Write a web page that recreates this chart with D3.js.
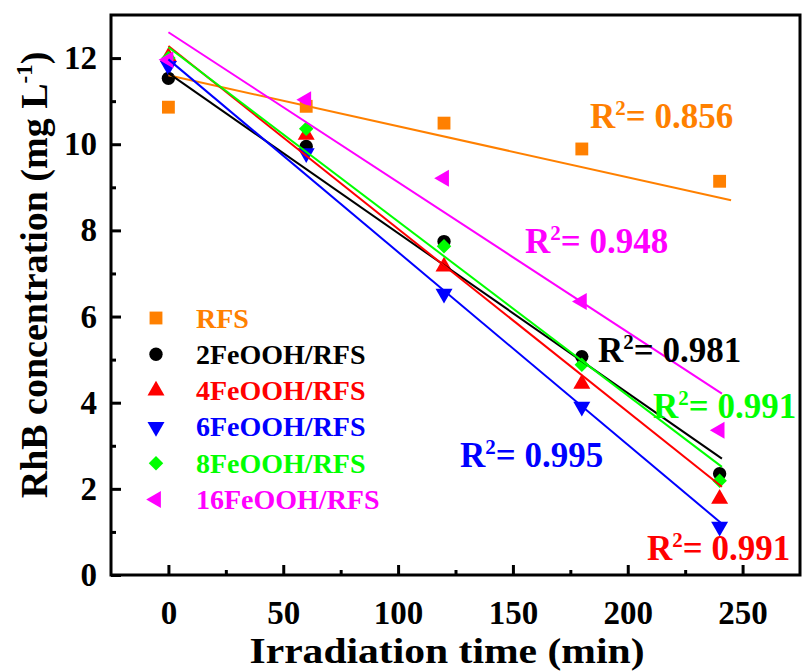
<!DOCTYPE html>
<html><head><meta charset="utf-8">
<script src="https://cdn.jsdelivr.net/npm/d3@7"></script>
<style>
html,body{margin:0;padding:0;background:#fff;}
svg{display:block;}
text{font-family:"Liberation Serif","Times New Roman",serif;font-weight:bold;}
</style></head>
<body>
<svg id="chart" width="802" height="671"></svg>
<script>
// ---- data ----
const times = [0, 60, 120, 180, 240];
const seriesNames = ["RFS", "2FeOOH/RFS", "4FeOOH/RFS", "6FeOOH/RFS", "8FeOOH/RFS", "16FeOOH/RFS"];
const seriesColors = ["#FF8000", "#000000", "#FF0000", "#0000FF", "#00FF00", "#FF00FF"];
const seriesShapes = ["square", "circle", "triangleUp", "triangleDown", "diamond", "triangleLeft"];
const rfs  = [10.86, 10.88, 10.49, 9.89, 9.14];
const fe2  = [11.53, 9.95, 7.74, 5.07, 2.35];
const fe4  = [12.03, 10.22, 7.16, 4.44, 1.77];
const fe6  = [11.82, 9.79, 6.53, 3.91, 1.12];
const fe8  = [12.0, 10.36, 7.63, 4.88, 2.19];
const fe16 = [11.96, 11.03, 9.21, 6.35, 3.36];
// fitted lines: value at start time and end time
const fitStartT = [0, 0, 0, 0, 0, 0];
const fitEndT   = [245, 241, 241, 241, 241, 241];
const fitStartV = [11.6, 11.65, 12.28, 11.97, 12.25, 12.6];
const fitEndV   = [8.70, 2.70, 2.05, 1.19, 2.51, 4.21];
// R^2 annotations
const r2Labels = ["0.856", "0.981", "0.991", "0.995", "0.991", "0.948"];
const r2PosX = [590, 598, 647, 460, 653, 525];   // label anchors (pixels)
const r2PosY = [128, 362, 560, 467, 418, 253];
const xTicks = [0, 50, 100, 150, 200, 250];
const xMinor = [25, 75, 125, 175, 225];
const yTicks = [0, 2, 4, 6, 8, 10, 12];
const yMinor = [1, 3, 5, 7, 9, 11];

const values = [rfs, fe2, fe4, fe6, fe8, fe16];

const svg = d3.select("#chart");
const L = 111, R = 800, T = 15, B = 575;
const x = d3.scaleLinear().domain([-25, 275]).range([L, R]);
const y = d3.scaleLinear().domain([0, 13]).range([B, T]);

// markers
const sym = {
  square: d3.symbol().type(d3.symbolSquare).size(165),
  circle: d3.symbol().type(d3.symbolCircle).size(140),
  triangleUp: d3.symbol().type(d3.symbolTriangle).size(125),
  triangleDown: d3.symbol().type(d3.symbolTriangle).size(125),
  diamond: d3.symbol().type(d3.symbolSquare).size(105),
  triangleLeft: d3.symbol().type(d3.symbolTriangle).size(125)
};
const rot = {square:0, circle:0, triangleUp:0, triangleDown:180, diamond:45, triangleLeft:-90};
function marker(g, shape, color, cx, cy) {
  g.append("path").attr("d", sym[shape]())
    .attr("transform", `translate(${cx},${cy}) rotate(${rot[shape]})`)
    .attr("fill", color);
}

const gm = svg.append("g");
values.forEach((vals, i) => {
  vals.forEach((v, j) => marker(gm, seriesShapes[i], seriesColors[i], x(times[j]), y(v)));
});

// fit lines
const gl = svg.append("g");
values.forEach((vals, i) => {
  gl.append("line")
    .attr("x1", x(fitStartT[i])).attr("y1", y(fitStartV[i]))
    .attr("x2", x(fitEndT[i])).attr("y2", y(fitEndV[i]))
    .attr("stroke", seriesColors[i]).attr("stroke-width", 2);
});

// axes
const fontT = '"Liberation Serif","Times New Roman",serif';
const ax = svg.append("g").attr("transform", `translate(0,${B})`)
  .call(d3.axisBottom(x).tickValues(xTicks).tickSize(-10).tickPadding(26).tickFormat(d3.format("d")));
const axm = svg.append("g").attr("transform", `translate(0,${B})`)
  .call(d3.axisBottom(x).tickValues(xMinor).tickSize(-5).tickFormat(""));
const ay = svg.append("g").attr("transform", `translate(${L},0)`)
  .call(d3.axisLeft(y).tickValues(yTicks).tickSize(-10).tickPadding(14).tickFormat(d3.format("d")));
const aym = svg.append("g").attr("transform", `translate(${L},0)`)
  .call(d3.axisLeft(y).tickValues(yMinor).tickSize(-5).tickFormat(""));
[ax, axm, ay, aym].forEach(a => {
  a.select(".domain").remove();
  a.selectAll(".tick line").attr("stroke", "#000").attr("stroke-width", 3);
  a.selectAll("text").attr("font-family", fontT).attr("font-weight", "bold")
    .attr("font-size", 33).attr("fill", "#000");
});

// frame
svg.append("rect").attr("x", L).attr("y", T).attr("width", R - L).attr("height", B - T)
  .attr("fill", "none").attr("stroke", "#000").attr("stroke-width", 3);

// legend
const lg = svg.append("g");
seriesNames.forEach((n, i) => {
  const cy = 318 + i * 36.3;
  marker(lg, seriesShapes[i], seriesColors[i], 156, cy);
  lg.append("text").attr("x", 196).attr("y", cy + 9.5)
    .attr("font-size", 28).attr("fill", seriesColors[i]).text(n);
});

// R^2 labels
r2Labels.forEach((t, i) => {
  const tx = svg.append("text").attr("x", r2PosX[i]).attr("y", r2PosY[i])
    .attr("font-size", 35).attr("fill", seriesColors[i]);
  tx.append("tspan").text("R");
  tx.append("tspan").attr("font-size", 21).attr("dy", -13).text("2");
  tx.append("tspan").attr("dy", 13).text("= " + t);
});

// axis titles
svg.append("text").attr("x", 447).attr("y", 663).attr("text-anchor", "middle")
  .attr("font-size", 35).attr("textLength", 395).attr("lengthAdjust", "spacingAndGlyphs")
  .attr("fill", "#000").text("Irradiation time (min)");
const yt = svg.append("text").attr("transform", "translate(47,275) rotate(-90)")
  .attr("text-anchor", "middle").attr("font-size", 38).attr("fill", "#000");
yt.append("tspan").text("RhB concentration (mg L");
yt.append("tspan").attr("font-size", 23).attr("dy", -15).text("-1");
yt.append("tspan").attr("dy", 15).text(")");
</script>
</body></html>
